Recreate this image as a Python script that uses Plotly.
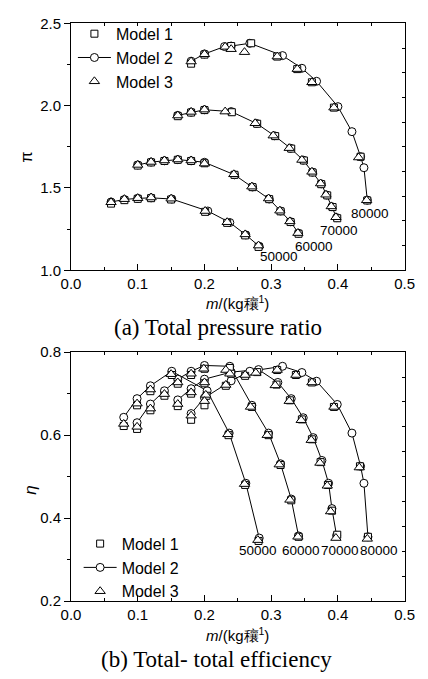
import plotly.graph_objects as go

# ---------------- (a) Total pressure ratio ----------------
# speed 50000
pa50_x1 = [0.06, 0.08, 0.10, 0.12, 0.150, 0.201, 0.234, 0.261, 0.281]
pa50_y1 = [1.405, 1.426, 1.434, 1.438, 1.430, 1.355, 1.288, 1.212, 1.142]
pa50_x2 = [0.06, 0.08, 0.10, 0.12, 0.151, 0.205, 0.238, 0.262, 0.282]
pa50_y2 = [1.415, 1.430, 1.437, 1.440, 1.433, 1.360, 1.290, 1.215, 1.146]
pa50_x3 = [0.06, 0.08, 0.10, 0.12, 0.150, 0.201, 0.234, 0.261, 0.281]
pa50_y3 = [1.413, 1.432, 1.438, 1.442, 1.435, 1.360, 1.292, 1.218, 1.150]
# speed 60000
pa60_x1 = [0.10, 0.12, 0.14, 0.16, 0.18, 0.20, 0.245, 0.272, 0.297, 0.314, 0.329, 0.341]
pa60_y1 = [1.636, 1.655, 1.664, 1.671, 1.664, 1.650, 1.580, 1.505, 1.432, 1.358, 1.293, 1.222]
pa60_x2 = [0.10, 0.12, 0.14, 0.16, 0.18, 0.20, 0.245, 0.272, 0.297, 0.314, 0.329, 0.341]
pa60_y2 = [1.640, 1.657, 1.665, 1.672, 1.665, 1.656, 1.580, 1.506, 1.433, 1.360, 1.295, 1.225]
pa60_x3 = [0.10, 0.12, 0.14, 0.16, 0.18, 0.20, 0.244, 0.271, 0.296, 0.313, 0.328, 0.340]
pa60_y3 = [1.640, 1.658, 1.667, 1.673, 1.667, 1.648, 1.583, 1.508, 1.436, 1.362, 1.297, 1.226]
# speed 70000
pa70_x1 = [0.16, 0.18, 0.20, 0.241, 0.279, 0.306, 0.330, 0.349, 0.362, 0.375, 0.384, 0.392, 0.399]
pa70_y1 = [1.936, 1.958, 1.973, 1.960, 1.890, 1.815, 1.739, 1.667, 1.594, 1.523, 1.455, 1.384, 1.316]
pa70_x2 = [0.16, 0.18, 0.20, 0.24, 0.278, 0.305, 0.329, 0.348, 0.362, 0.375, 0.383, 0.391, 0.398]
pa70_y2 = [1.941, 1.960, 1.975, 1.964, 1.892, 1.817, 1.741, 1.669, 1.596, 1.525, 1.457, 1.386, 1.320]
pa70_x3 = [0.16, 0.18, 0.20, 0.231, 0.276, 0.303, 0.327, 0.346, 0.361, 0.374, 0.382, 0.390, 0.397]
pa70_y3 = [1.940, 1.962, 1.976, 1.964, 1.893, 1.818, 1.742, 1.670, 1.598, 1.527, 1.459, 1.388, 1.322]
# speed 80000
pa80_x1 = [0.18, 0.20, 0.24, 0.270, 0.309, 0.339, 0.361, 0.394, 0.434, 0.444]
pa80_y1 = [2.255, 2.310, 2.362, 2.379, 2.298, 2.222, 2.142, 1.988, 1.690, 1.424]
pa80_x2 = [0.18, 0.20, 0.23, 0.24, 0.268, 0.317, 0.346, 0.368, 0.400, 0.421, 0.434, 0.439, 0.444]
pa80_y2 = [2.270, 2.314, 2.359, 2.362, 2.379, 2.304, 2.227, 2.148, 1.994, 1.842, 1.690, 1.623, 1.426]
pa80_x3 = [0.18, 0.20, 0.231, 0.240, 0.260, 0.309, 0.339, 0.361, 0.394, 0.431, 0.443]
pa80_y3 = [2.268, 2.312, 2.357, 2.343, 2.325, 2.298, 2.222, 2.142, 1.988, 1.685, 1.425]

# ---------------- (b) Total-total efficiency ----------------
eb50_x1 = [0.079, 0.099, 0.119, 0.151, 0.203, 0.236, 0.261, 0.281]
eb50_y1 = [0.622, 0.672, 0.706, 0.745, 0.695, 0.600, 0.480, 0.345]
eb50_x2 = [0.079, 0.099, 0.119, 0.151, 0.204, 0.237, 0.262, 0.282]
eb50_y2 = [0.643, 0.688, 0.719, 0.754, 0.707, 0.605, 0.484, 0.352]
eb50_x3 = [0.079, 0.099, 0.119, 0.150, 0.202, 0.235, 0.260, 0.280]
eb50_y3 = [0.627, 0.676, 0.710, 0.747, 0.697, 0.602, 0.482, 0.347]

eb60_x1 = [0.099, 0.119, 0.14, 0.16, 0.18, 0.20, 0.238, 0.271, 0.296, 0.314, 0.330, 0.341]
eb60_y1 = [0.615, 0.660, 0.695, 0.724, 0.745, 0.760, 0.762, 0.668, 0.600, 0.528, 0.443, 0.355]
eb60_x2 = [0.099, 0.119, 0.14, 0.16, 0.18, 0.20, 0.238, 0.271, 0.296, 0.314, 0.330, 0.341]
eb60_y2 = [0.630, 0.675, 0.707, 0.735, 0.754, 0.768, 0.766, 0.672, 0.605, 0.531, 0.446, 0.357]
eb60_x3 = [0.099, 0.119, 0.14, 0.16, 0.18, 0.199, 0.232, 0.269, 0.294, 0.312, 0.328, 0.340]
eb60_y3 = [0.620, 0.664, 0.699, 0.727, 0.748, 0.760, 0.757, 0.668, 0.600, 0.529, 0.444, 0.355]

eb70_x1 = [0.16, 0.18, 0.20, 0.24, 0.279, 0.308, 0.328, 0.346, 0.361, 0.374, 0.385, 0.391, 0.399]
eb70_y1 = [0.670, 0.700, 0.725, 0.748, 0.752, 0.722, 0.684, 0.638, 0.590, 0.535, 0.480, 0.418, 0.360]
eb70_x2 = [0.16, 0.18, 0.20, 0.24, 0.281, 0.310, 0.330, 0.348, 0.363, 0.376, 0.386, 0.391, 0.398]
eb70_y2 = [0.685, 0.712, 0.735, 0.752, 0.758, 0.727, 0.688, 0.642, 0.594, 0.539, 0.484, 0.423, 0.358]
eb70_x3 = [0.16, 0.18, 0.20, 0.238, 0.277, 0.306, 0.327, 0.345, 0.360, 0.373, 0.384, 0.389, 0.397]
eb70_y3 = [0.675, 0.703, 0.727, 0.748, 0.750, 0.720, 0.682, 0.636, 0.588, 0.533, 0.478, 0.416, 0.352]

eb80_x1 = [0.18, 0.20, 0.232, 0.261, 0.309, 0.337, 0.361, 0.394, 0.433, 0.445]
eb80_y1 = [0.637, 0.672, 0.719, 0.743, 0.757, 0.745, 0.727, 0.668, 0.525, 0.355]
eb80_x2 = [0.18, 0.20, 0.24, 0.268, 0.317, 0.346, 0.368, 0.399, 0.421, 0.434, 0.439, 0.445]
eb80_y2 = [0.652, 0.690, 0.731, 0.754, 0.766, 0.751, 0.730, 0.674, 0.605, 0.525, 0.484, 0.355]
eb80_x3 = [0.18, 0.20, 0.232, 0.261, 0.309, 0.337, 0.361, 0.394, 0.432, 0.444]
eb80_y3 = [0.647, 0.682, 0.721, 0.745, 0.757, 0.745, 0.727, 0.668, 0.522, 0.350]

speed_labels = ["50000", "60000", "70000", "80000"]
pa_label_x = [0.312, 0.364, 0.402, 0.448]
pa_label_y = [1.083, 1.146, 1.241, 1.343]
eb_label_x = [0.280, 0.344, 0.403, 0.462]
eb_label_y = [0.321, 0.321, 0.321, 0.321]

model_names = ["Model 1", "Model 2", "Model 3"]

W, H = 428, 679
FONT = "Liberation Sans, Arial, sans-serif"
SERIF = "Liberation Serif, Times New Roman, serif"


def cat(*lists):
    out = []
    for i, l in enumerate(lists):
        if i:
            out.append(None)
        out.extend(l)
    return out


fig = go.Figure()


def add_panel(xa, ya, leg, curves):
    # Model 2: line + circles (drawn first)
    x2 = cat(*[c[2] for c in curves])
    y2 = cat(*[c[3] for c in curves])
    fig.add_trace(go.Scatter(x=x2, y=y2, mode="lines+markers", name=model_names[1],
                             line=dict(color="black", width=1),
                             marker=dict(symbol="circle", size=8, color="white",
                                         line=dict(color="black", width=1)),
                             xaxis=xa, yaxis=ya, legend=leg, legendrank=2, connectgaps=False))
    # Model 1: squares
    x1 = cat(*[c[0] for c in curves])
    y1 = cat(*[c[1] for c in curves])
    fig.add_trace(go.Scatter(x=x1, y=y1, mode="markers", name=model_names[0],
                             marker=dict(symbol="square", size=7, color="white",
                                         line=dict(color="black", width=1)),
                             xaxis=xa, yaxis=ya, legend=leg, legendrank=1))
    # Model 3: triangles
    x3 = cat(*[c[4] for c in curves])
    y3 = cat(*[c[5] for c in curves])
    fig.add_trace(go.Scatter(x=x3, y=y3, mode="markers", name=model_names[2],
                             marker=dict(symbol="triangle-up", size=9, color="white",
                                         line=dict(color="black", width=1)),
                             xaxis=xa, yaxis=ya, legend=leg, legendrank=3))


add_panel("x", "y", "legend", [
    (pa50_x1, pa50_y1, pa50_x2, pa50_y2, pa50_x3, pa50_y3),
    (pa60_x1, pa60_y1, pa60_x2, pa60_y2, pa60_x3, pa60_y3),
    (pa70_x1, pa70_y1, pa70_x2, pa70_y2, pa70_x3, pa70_y3),
    (pa80_x1, pa80_y1, pa80_x2, pa80_y2, pa80_x3, pa80_y3),
])
add_panel("x2", "y2", "legend2", [
    (eb50_x1, eb50_y1, eb50_x2, eb50_y2, eb50_x3, eb50_y3),
    (eb60_x1, eb60_y1, eb60_x2, eb60_y2, eb60_x3, eb60_y3),
    (eb70_x1, eb70_y1, eb70_x2, eb70_y2, eb70_x3, eb70_y3),
    (eb80_x1, eb80_y1, eb80_x2, eb80_y2, eb80_x3, eb80_y3),
])

# dummy traces so that the frame tick axes are drawn
for xa, ya in [("x3", "y"), ("x", "y3"), ("x4", "y2"), ("x2", "y4")]:
    fig.add_trace(go.Scatter(x=[None], y=[None], xaxis=xa, yaxis=ya,
                             showlegend=False, hoverinfo="skip", mode="markers"))

xdom = [64 / W, 414 / W]
top_dom = [1 - 268 / H, 1 - 14.7 / H]
bot_dom = [1 - 607.3 / H, 1 - 352 / H]

tickfont = dict(family=FONT, size=15, color="black")
base_x = dict(range=[0, 0.5], dtick=0.1, tick0=0, tickformat=".1f", ticks="inside", ticklen=6,
              tickwidth=1, tickcolor="black", showline=True, linecolor="black", linewidth=1,
              mirror=True, showgrid=False, zeroline=False, tickfont=tickfont,
              minor=dict(dtick=0.05, ticks="inside", ticklen=3, tickcolor="black", showgrid=False))
top_x = dict(range=[0, 0.5], dtick=0.05, tick0=0, ticks="inside", ticklen=3, tickcolor="black",
             showticklabels=False, showline=False, showgrid=False, zeroline=False, side="top")
right_y = dict(range=[0, 10], dtick=1, tick0=0, ticks="inside", ticklen=3, tickcolor="black",
               showticklabels=False, showline=False, showgrid=False, zeroline=False, side="right")

legfont = dict(family=FONT, size=16, color="black")
fig.update_layout(
    width=W, height=H, margin=dict(l=0, r=0, t=0, b=0),
    paper_bgcolor="white", plot_bgcolor="white",
    xaxis=dict(domain=xdom, anchor="y", **base_x),
    yaxis=dict(domain=top_dom, anchor="x", range=[1.0, 2.5], dtick=0.5, tick0=0, tickformat=".1f",
               ticks="outside", ticklen=6, tickwidth=1, tickcolor="black", showline=True,
               linecolor="black", linewidth=1, mirror=True, showgrid=False, zeroline=False,
               tickfont=tickfont,
               minor=dict(dtick=0.25, ticks="outside", ticklen=3, tickcolor="black", showgrid=False)),
    xaxis2=dict(domain=xdom, anchor="y2", **base_x),
    yaxis2=dict(domain=bot_dom, anchor="x2", range=[0.2, 0.8], dtick=0.2, tick0=0, tickformat=".1f",
                ticks="outside", ticklen=6, tickwidth=1, tickcolor="black", showline=True,
                linecolor="black", linewidth=1, mirror=True, showgrid=False, zeroline=False,
                tickfont=tickfont,
                minor=dict(dtick=0.1, ticks="outside", ticklen=3, tickcolor="black", showgrid=False)),
    xaxis3=dict(overlaying="x", anchor="y", **top_x),
    yaxis3=dict(overlaying="y", anchor="x", **right_y),
    xaxis4=dict(overlaying="x2", anchor="y2", **top_x),
    yaxis4=dict(overlaying="y2", anchor="x2", **right_y),
    legend=dict(x=66 / W, y=1 - 8 / H, xanchor="left", yanchor="top", itemwidth=33,
                bgcolor="rgba(0,0,0,0)", borderwidth=0, font=legfont, tracegroupgap=0),
    legend2=dict(x=72 / W, y=1 - 531 / H, xanchor="left", yanchor="top", itemwidth=33,
                 bgcolor="rgba(0,0,0,0)", borderwidth=0, font=legfont, tracegroupgap=0),
    showlegend=True,
)

ann = []
for i, s in enumerate(speed_labels):
    ann.append(dict(x=pa_label_x[i], y=pa_label_y[i], xref="x", yref="y", text=s, showarrow=False,
                    xanchor="center", yanchor="middle",
                    font=dict(family=FONT, size=13.5, color="black")))
    ann.append(dict(x=eb_label_x[i], y=eb_label_y[i], xref="x2", yref="y2", text=s, showarrow=False,
                    xanchor="center", yanchor="middle",
                    font=dict(family=FONT, size=13.5, color="black")))

xtitle = "<i>m</i>/(kg穰<sup>1</sup>)"


def pann(px, py, text, font, angle=0):
    return dict(x=px / W, y=1 - py / H, xref="paper", yref="paper", text=text, showarrow=False,
                xanchor="center", yanchor="middle", textangle=angle, font=font)


ann += [
    pann(239, 301, xtitle, dict(family=FONT, size=15, color="black")),
    pann(239, 642, xtitle, dict(family=FONT, size=15, color="black")),
    pann(17, 152, "π", dict(family=FONT, size=16, color="black"), -90),
    pann(22, 493, "<i>η</i>", dict(family=FONT, size=17, color="black"), -90),
    pann(218, 327, "(a) Total pressure ratio", dict(family=SERIF, size=23, color="black")),
    pann(217, 667, "(b) Total- total efficiency", dict(family=SERIF, size=23, color="black")),
]
fig.update_layout(annotations=ann)

fig.write_html("out.html")
